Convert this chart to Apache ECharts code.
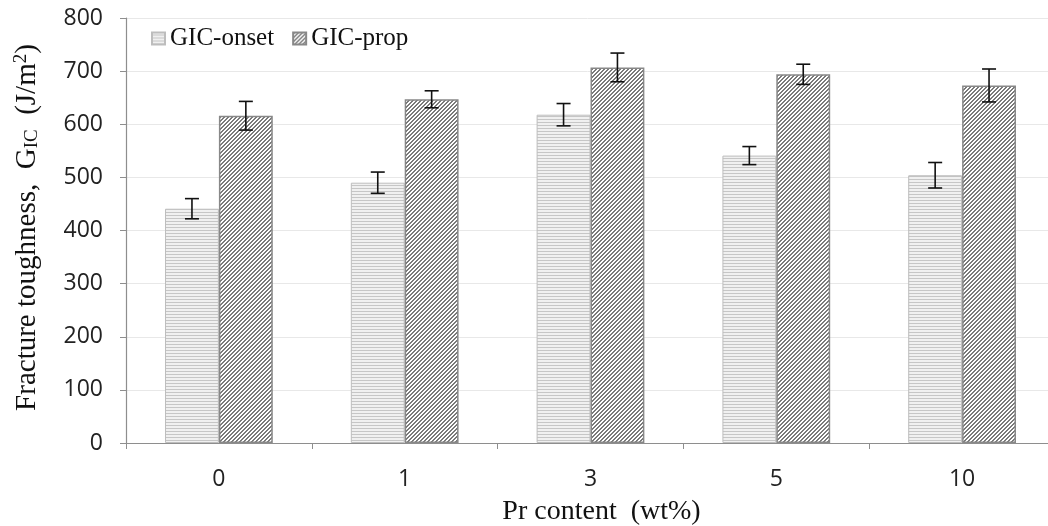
<!DOCTYPE html>
<html>
<head>
<meta charset="utf-8">
<script src="https://cdn.jsdelivr.net/npm/echarts@6/dist/echarts.min.js"></script>
<style>
  html, body { margin: 0; padding: 0; background: #fff; }
  #chart { width: 1048px; height: 526px; }
</style>
</head>
<body>
<div id="chart"></div>
<script>
// 数据
var categories = ["0", "1", "3", "5", "10"];
var onsetName = "GIC-onset";
var propName = "GIC-prop";
var onsetValues = [441, 490, 618, 541, 504];
var onsetErrors = [19, 20, 21, 17, 24];
var propValues = [616, 647, 707, 694, 673];
var propErrors = [27, 16, 27, 19, 31];
var yTicks = [0, 100, 200, 300, 400, 500, 600, 700, 800];

var barFrac = 0.29; // 单根柱子占类目宽度的比例

// 横线填充
function makeHLines() {
  var c = document.createElement("canvas");
  c.width = 4;
  c.height = 3;
  var ctx = c.getContext("2d");
  ctx.fillStyle = "#f0f0f0";
  ctx.fillRect(0, 0, 4, 3);
  ctx.fillStyle = "#c6c6c6";
  ctx.fillRect(0, 2, 4, 1);
  return c;
}

// 斜线填充 ////
function makeDiag() {
  var c = document.createElement("canvas");
  c.width = 4;
  c.height = 4;
  var ctx = c.getContext("2d");
  ctx.fillStyle = "#ffffff";
  ctx.fillRect(0, 0, 4, 4);
  ctx.fillStyle = "#7a7a7a";
  for (let x = 0; x < 4; x++) {
    for (let y = 0; y < 4; y++) {
      if ((x + y) % 4 === 0 || (x + y) % 4 === 1) {
        ctx.fillRect(x, y, 1, 1);
      }
    }
  }
  return c;
}

var hPattern = { image: makeHLines(), repeat: "repeat" };
var dPattern = { image: makeDiag(), repeat: "repeat" };

function errData(values, errors, side) {
  return values.map(function (v, i) {
    return [i, v - errors[i], v + errors[i], side];
  });
}

function renderErr(params, api) {
  var lo = api.coord([api.value(0), api.value(1)]);
  var hi = api.coord([api.value(0), api.value(2)]);
  var band = api.size([1, 0])[0];
  var cx = lo[0] + api.value(3) * band * barFrac / 2;
  var cap = 7;
  var style = { stroke: "#111", lineWidth: 1.6 };
  return {
    type: "group",
    children: [
      { type: "line", shape: { x1: cx, y1: lo[1], x2: cx, y2: hi[1] }, style: style },
      { type: "line", shape: { x1: cx - cap, y1: lo[1], x2: cx + cap, y2: lo[1] }, style: style },
      { type: "line", shape: { x1: cx - cap, y1: hi[1], x2: cx + cap, y2: hi[1] }, style: style },
    ],
  };
}

var serif = "'Liberation Serif', 'DejaVu Serif', serif";
var sans = "'Open Sans', 'DejaVu Sans', sans-serif";

var option = {
  animation: false,
  grid: { left: 126, right: -7, top: 18, bottom: 83, outerBoundsMode: "none" },
  legend: {
    left: 146,
    top: 21,
    icon: "rect",
    itemWidth: 13,
    itemHeight: 12,
    itemGap: 18,
    textStyle: { fontFamily: serif, fontSize: 25, color: "#111" },
    data: [onsetName, propName],
  },
  xAxis: {
    type: "category",
    data: categories,
    name: "Pr content  (wt%)",
    nameLocation: "middle",
    nameGap: 55,
    nameTextStyle: { fontFamily: serif, fontSize: 28, color: "#111", padding: [0, 0, 0, 22] },
    axisLine: { lineStyle: { color: "#8e8e8e", width: 1.2 } },
    axisTick: { show: true, length: 6, lineStyle: { color: "#8e8e8e" } },
    axisLabel: { fontFamily: sans, fontSize: 23, color: "#222", margin: 25 },
  },
  yAxis: {
    type: "value",
    min: 0,
    max: 800,
    interval: 100,
    name: "Fracture toughness,  G{sub|IC}  (J/m{sup|2})",
    nameLocation: "middle",
    nameGap: 84,
    nameTextStyle: {
      fontFamily: serif,
      fontSize: 29,
      color: "#111",
      padding: [0, 0, 0, 6],
      rich: {
        sub: { fontFamily: serif, fontSize: 19, color: "#111", padding: [11, 0, 0, 0] },
        sup: { fontFamily: serif, fontSize: 19, color: "#111", padding: [0, 0, 11, 0] },
      },
    },
    axisLine: { show: true, lineStyle: { color: "#8e8e8e", width: 1.2 } },
    axisTick: { show: true, length: 6, lineStyle: { color: "#8e8e8e" } },
    splitLine: { lineStyle: { color: "#e8e8e8" } },
    axisLabel: {
      fontFamily: sans,
      fontSize: 23,
      color: "#222",
      margin: 23,
      formatter: function (v) {
        return yTicks.indexOf(v) >= 0 ? String(v) : "";
      },
    },
  },
  series: [
    {
      name: onsetName,
      type: "bar",
      barWidth: barFrac * 100 + "%",
      barGap: "0%",
      itemStyle: { color: hPattern, borderColor: "#bdbdbd", borderWidth: 1 },
      data: onsetValues,
    },
    {
      name: propName,
      type: "bar",
      barWidth: barFrac * 100 + "%",
      barGap: "0%",
      itemStyle: { color: dPattern, borderColor: "#888888", borderWidth: 1.5 },
      data: propValues,
    },
    {
      type: "custom",
      renderItem: renderErr,
      encode: { x: 0, y: [1, 2] },
      z: 10,
      data: errData(onsetValues, onsetErrors, -1),
    },
    {
      type: "custom",
      renderItem: renderErr,
      encode: { x: 0, y: [1, 2] },
      z: 10,
      data: errData(propValues, propErrors, 1),
    },
  ],
};

var chart = echarts.init(document.getElementById("chart"));
chart.setOption(option);
</script>
</body>
</html>
